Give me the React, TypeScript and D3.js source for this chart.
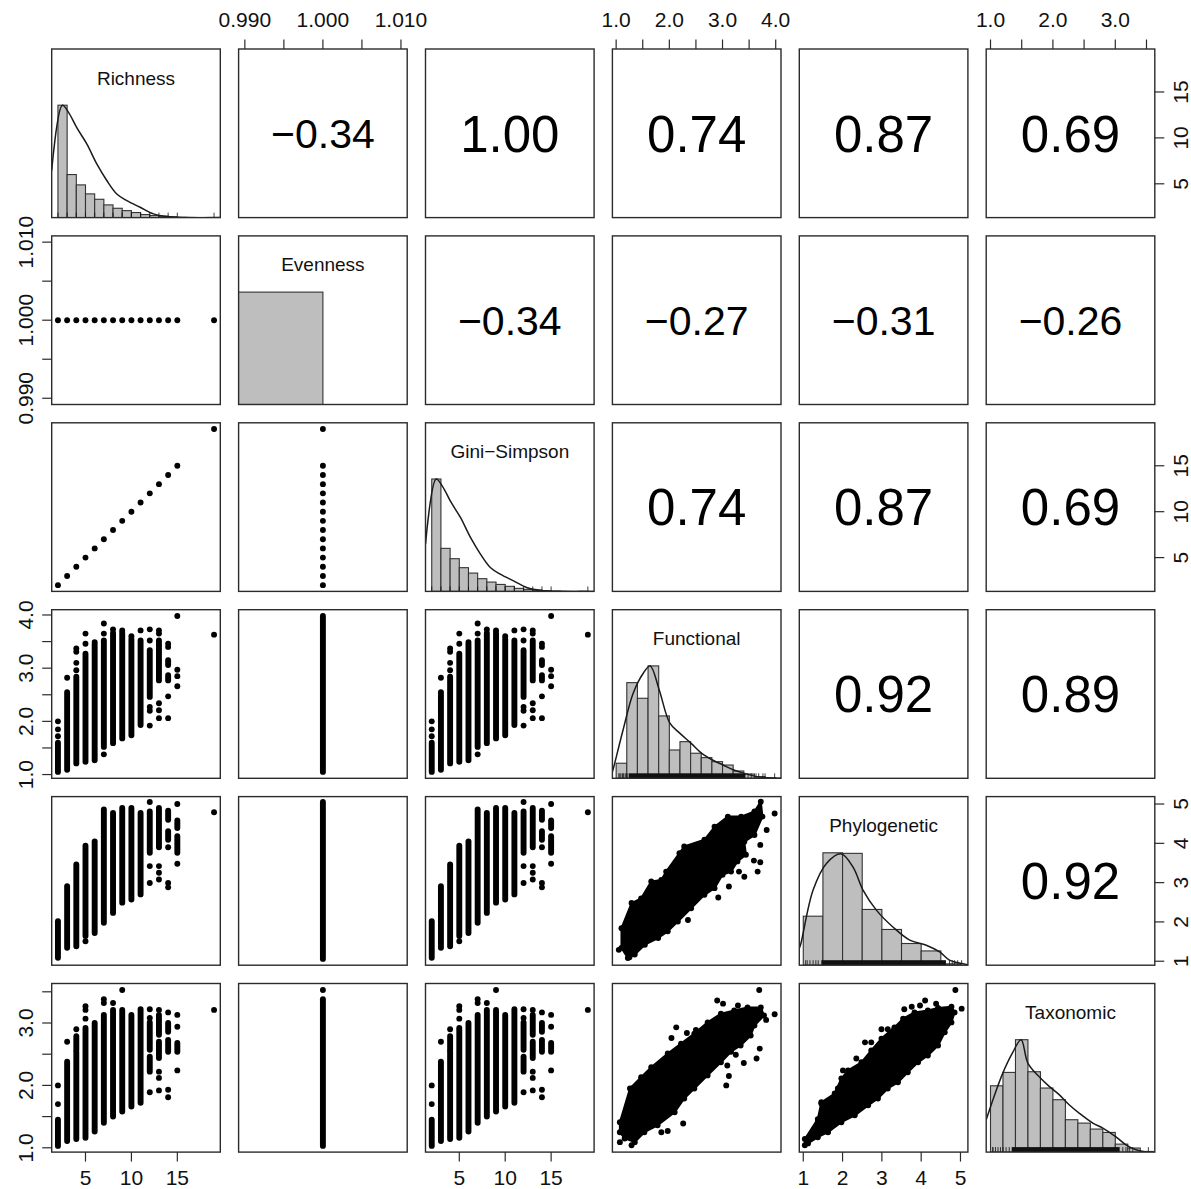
import React from "react";
import * as d3 from "d3";

// ---------------- DATA ----------------
const variableNames = ["Richness", "Evenness", "Gini\u2212Simpson", "Functional", "Phylogenetic", "Taxonomic"];

const richnessRange = [2, 19];
const evennessRange = [0.99, 1.01];
const giniRange = [2, 19];
const functionalRange = [1.047, 3.982];
const phylogeneticRange = [1.058, 5.03];
const taxonomicRange = [1.031, 3.533];

// [row, col, r]
const correlations = [
  [0, 1, -0.34], [0, 2, 1.0], [0, 3, 0.74], [0, 4, 0.87], [0, 5, 0.69],
  [1, 2, -0.34], [1, 3, -0.27], [1, 4, -0.31], [1, 5, -0.26],
  [2, 3, 0.74], [2, 4, 0.87], [2, 5, 0.69],
  [3, 4, 0.92], [3, 5, 0.89],
  [4, 5, 0.92],
];

const richnessTicks = [5, 10, 15];
const richnessTickLabels = ["5", "10", "15"];
const evennessTicks = [0.99, 0.995, 1.0, 1.005, 1.01];
const evennessTickLabels = ["0.990", "", "1.000", "", "1.010"];
const functionalTicks = [1, 1.5, 2, 2.5, 3, 3.5, 4];
const functionalTickLabels = ["1.0", "", "2.0", "", "3.0", "", "4.0"];
const phylogeneticTicks = [1, 2, 3, 4, 5];
const phylogeneticTickLabels = ["1", "2", "3", "4", "5"];
const taxonomicTicks = [1, 1.5, 2, 2.5, 3, 3.5];
const taxonomicTickLabels = ["1.0", "", "2.0", "", "3.0", ""];

// unique richness values
const richnessValues = [2, 3, 4, 5, 6, 7, 8, 9, 10, 11, 12, 13, 14, 15, 19];

// histograms (bar heights relative to tallest bar)
const richnessBreaks = [2, 3, 4, 5, 6, 7, 8, 9, 10, 11, 12, 13, 14, 15, 16, 17, 18, 19];
const richnessHeights = [1.0, 0.383, 0.291, 0.211, 0.163, 0.113, 0.083, 0.062, 0.045, 0.027, 0.018, 0.012, 0.006, 0.002, 0, 0, 0.001];
const evennessBreaks = [0.98, 1.0];
const evennessHeights = [1.0];
const functionalBreaks = [1.0, 1.2, 1.4, 1.6, 1.8, 2.0, 2.2, 2.4, 2.6, 2.8, 3.0, 3.2, 3.4, 3.6, 3.8, 4.0];
const functionalHeights = [0.134, 0.851, 0.712, 1.0, 0.555, 0.252, 0.326, 0.223, 0.184, 0.148, 0.118, 0.065, 0.038, 0.015, 0.005];
const phylogeneticBreaks = [1.0, 1.5, 2.0, 2.5, 3.0, 3.5, 4.0, 4.5, 5.0];
const phylogeneticHeights = [0.436, 1.0, 0.995, 0.496, 0.318, 0.193, 0.127, 0.012];
const taxonomicBreaks = [1.0, 1.2, 1.4, 1.6, 1.8, 2.0, 2.2, 2.4, 2.6, 2.8, 3.0, 3.2, 3.4, 3.6];
const taxonomicHeights = [0.59, 0.709, 1.0, 0.715, 0.57, 0.466, 0.288, 0.258, 0.205, 0.175, 0.071, 0.036, 0.006];

// density curves [x, relative height]
const richnessDensity = [[1.32, 0.42], [2.48, 1.0], [3.2, 0.93], [4.05, 0.8], [5.14, 0.656], [6.23, 0.478], [7.32, 0.33], [8.41, 0.21], [9.5, 0.151], [10.95, 0.092], [12.4, 0.033], [13.9, 0.009], [16, 0.001], [19.68, 0]];
const functionalDensity = [[0.93, 0.06], [0.94, 0.074], [1.13, 0.43], [1.32, 0.757], [1.51, 0.935], [1.64, 1.0], [1.81, 0.786], [2.01, 0.49], [2.2, 0.4], [2.41, 0.311], [2.61, 0.222], [2.81, 0.163], [3.01, 0.118], [3.21, 0.074], [3.41, 0.044], [3.64, 0.015], [3.95, 0.001], [4.1, 0]];
const phylogeneticDensity = [[0.9, 0.15], [0.94, 0.193], [1.25, 0.668], [1.59, 0.905], [1.97, 0.99], [2.27, 0.87], [2.52, 0.668], [2.86, 0.49], [3.28, 0.34], [3.71, 0.223], [4.13, 0.178], [4.47, 0.118], [4.72, 0.045], [5.06, 0.012], [5.19, 0.004]];
const taxonomicDensity = [[0.931, 0.288], [1.06, 0.5], [1.197, 0.703], [1.35, 0.88], [1.49, 1.0], [1.6, 0.79], [1.8, 0.659], [1.94, 0.585], [2.1, 0.511], [2.26, 0.421], [2.42, 0.347], [2.64, 0.258], [2.8, 0.214], [3.0, 0.14], [3.17, 0.065], [3.33, 0.021], [3.49, 0.002], [3.633, 0]];

// rug marks: isolated values and dense stretch
const functionalRugTicks = [1.05, 1.07, 1.09, 1.12, 1.14, 1.17, 1.19, 1.22, 3.48, 3.54, 3.63, 3.68, 3.76, 3.8, 3.98];
const functionalRugDense = [1.24, 3.43];
const phylogeneticRugTicks = [1.06, 1.1, 1.17, 1.25, 1.32, 1.38, 4.72, 4.79, 4.85, 4.93, 5.03];
const phylogeneticRugDense = [1.46, 4.63];
const taxonomicRugTicks = [1.035, 1.04, 1.08, 1.12, 1.16, 1.2, 1.25, 1.3, 3.12, 3.17, 3.23, 3.28, 3.53];
const taxonomicRugDense = [1.34, 3.07];

// richness columns: [richness, low, high] continuous runs, and single points [richness, value]
const functionalRuns = [[2, 1.05, 1.6], [3, 1.09, 2.55], [4, 1.21, 2.84], [5, 1.24, 3.27], [6, 1.27, 3.45], [7, 1.52, 3.52], [8, 1.59, 3.66], [9, 1.68, 3.66], [10, 1.74, 3.55], [11, 1.93, 3.52], [12, 2.46, 3.34], [13, 2.77, 3.52], [14, 2.77, 2.87], [14, 3.06, 3.15]];
const functionalPoints = [[2, 1.72], [2, 1.85], [2, 2.0], [3, 2.82], [4, 3.37], [4, 3.31], [4, 3.1], [4, 2.96], [5, 3.65], [5, 3.46], [6, 3.49], [7, 3.84], [7, 3.65], [7, 1.38], [8, 3.73], [9, 3.71], [10, 3.6], [11, 3.71], [12, 3.73], [12, 3.52], [12, 2.27], [12, 2.2], [12, 1.92], [13, 3.71], [13, 3.65], [13, 2.34], [13, 2.21], [13, 2.06], [14, 3.46], [14, 3.4], [14, 2.47], [14, 2.06], [15, 3.98], [15, 2.97], [15, 2.85], [15, 2.66], [19, 3.63]];
const phylogeneticRuns = [[2, 1.09, 2.02], [3, 1.34, 2.91], [4, 1.38, 3.46], [5, 1.64, 3.94], [6, 1.72, 4.05], [7, 1.98, 4.86], [8, 2.23, 4.77], [9, 2.49, 4.9], [10, 2.57, 4.9], [11, 2.7, 4.77], [12, 3.76, 4.81], [13, 3.9, 4.9], [14, 4.6, 4.83], [14, 4.09, 4.31], [15, 4.39, 4.58], [15, 3.76, 4.18]];
const phylogeneticPoints = [[5, 1.51], [12, 5.05], [12, 3.42], [12, 2.99], [13, 3.42], [13, 3.25], [13, 3.08], [14, 3.9], [14, 2.99], [14, 2.88], [15, 5.0], [15, 3.48], [19, 4.79]];
const taxonomicRuns = [[2, 1.03, 1.45], [3, 1.11, 2.38], [4, 1.14, 2.54], [4, 2.57, 2.79], [5, 1.16, 2.89], [6, 1.26, 3.0], [7, 1.4, 3.13], [8, 1.5, 3.21], [9, 1.58, 3.21], [10, 1.66, 3.13], [11, 1.72, 3.22], [12, 2.57, 3.01], [12, 2.22, 2.46], [13, 2.81, 3.13], [13, 2.44, 2.7], [14, 2.86, 3.0], [14, 2.54, 2.73], [15, 2.54, 2.68]];
const taxonomicPoints = [[2, 1.7], [2, 2.0], [3, 2.7], [4, 2.9], [5, 3.27], [5, 3.21], [5, 3.07], [5, 2.92], [7, 3.38], [7, 3.32], [8, 3.32], [9, 3.53], [12, 3.22], [12, 3.08], [12, 1.89], [13, 3.21], [13, 2.22], [13, 2.12], [13, 1.92], [14, 3.17], [14, 1.93], [14, 1.81], [15, 3.13], [15, 2.94], [15, 2.24], [19, 3.21]];

// evenness (constant 1) columns: [low, high]
const evennessFunctionalRun = [1.05, 3.98];
const evennessPhylogeneticRun = [1.06, 5.05];
const evennessTaxonomicRun = [1.03, 3.38];
const evennessTaxonomicPoints = [3.53];

// dense clouds: outline (upper edge then lower edge) and isolated points
const funcPhyloUpper = [[1.1, 1.84], [1.29, 2.48], [1.47, 2.6], [1.66, 3.03], [1.85, 3.07], [1.94, 3.28], [2.19, 3.75], [2.28, 3.92], [2.66, 4.09], [2.85, 4.42], [3.1, 4.68], [3.35, 4.68], [3.6, 4.81], [3.72, 5.06]];
const funcPhyloLower = [[3.75, 4.68], [3.6, 4.21], [3.41, 4.04], [3.44, 3.71], [3.28, 3.54], [3.16, 3.28], [3.0, 3.2], [2.85, 2.86], [2.66, 2.69], [2.41, 2.35], [2.16, 2.01], [1.97, 1.76], [1.79, 1.59], [1.54, 1.42], [1.35, 1.17], [1.22, 1.08], [1.1, 1.34]];
const funcPhyloOutliers = [[3.98, 4.76], [3.83, 4.34], [3.71, 3.96], [3.71, 3.52], [3.59, 3.56], [3.66, 3.28], [3.41, 3.15], [3.31, 3.28], [3.12, 2.9], [2.92, 2.62], [2.35, 2.05], [1.05, 1.29], [1.25, 1.1]];

const funcTaxoUpper = [[1.07, 1.41], [1.26, 1.95], [1.47, 2.13], [1.66, 2.29], [1.97, 2.51], [2.22, 2.67], [2.47, 2.83], [2.72, 3.01], [2.97, 3.15], [3.22, 3.2], [3.47, 3.25], [3.72, 3.25]];
const funcTaxoLower = [[3.78, 3.12], [3.6, 2.96], [3.53, 2.8], [3.34, 2.64], [3.16, 2.54], [2.97, 2.37], [2.72, 2.16], [2.47, 1.95], [2.28, 1.79], [2.1, 1.57], [1.78, 1.36], [1.53, 1.25], [1.35, 1.09], [1.16, 1.15], [1.07, 1.25]];
const funcTaxoOutliers = [[3.69, 3.53], [3.98, 3.14], [3.82, 3.05], [3.7, 2.59], [3.64, 2.43], [3.4, 2.36], [3.25, 2.49], [3.09, 2.32], [3.12, 2.15], [3.07, 2.0], [2.9, 3.36], [3.01, 3.31], [3.29, 3.28], [2.13, 2.93], [2.33, 2.84], [2.5, 2.89], [2.04, 2.76], [2.26, 1.39], [1.85, 1.25], [1.97, 1.27], [1.3, 1.95], [1.07, 1.09], [1.29, 1.04], [1.11, 1.42]];

const phyloTaxoUpper = [[1.04, 1.14], [1.37, 1.46], [1.46, 1.73], [1.8, 1.87], [1.97, 2.11], [2.14, 2.24], [2.48, 2.37], [2.73, 2.56], [2.99, 2.75], [3.32, 2.93], [3.54, 3.07], [3.83, 3.17], [4.17, 3.2], [4.43, 3.24], [4.77, 3.26]];
const phyloTaxoLower = [[4.85, 3.17], [4.77, 3.01], [4.6, 2.85], [4.43, 2.64], [4.17, 2.48], [3.92, 2.37], [3.66, 2.21], [3.41, 2.05], [3.15, 1.95], [2.9, 1.79], [2.65, 1.68], [2.31, 1.52], [1.97, 1.41], [1.63, 1.25], [1.37, 1.17], [1.12, 1.07], [1.04, 1.04]];
const phyloTaxoOutliers = [[4.87, 3.53], [5.03, 3.23], [4.1, 3.36], [4.38, 3.31], [3.57, 3.22], [3.76, 3.26], [3.97, 3.28], [2.99, 2.9], [3.15, 2.9], [3.32, 2.9], [2.57, 2.69], [2.73, 2.69], [3.01, 2.69], [2.35, 2.43], [2.01, 2.24], [2.1, 2.08], [1.88, 1.95], [1.46, 1.71], [1.55, 1.71], [1.37, 1.41]];

// ---------------- LAYOUT / STYLE ----------------
const W = 1191;
const H = 1189;
const PX0 = 51.7;
const PY0 = 49;
const STEP = 186.9;
const SIZE = 168.6;
const DOT_R = 2.95;
const FONT = "'Liberation Sans', Arial, Helvetica, sans-serif";
const FRAME = "#2b2b2b";
const TICK_LEN = 9.5;
const AXIS_FONT = 21;

const ranges = [richnessRange, evennessRange, giniRange, functionalRange, phylogeneticRange, taxonomicRange];
const extend = (r: number[]) => {
  const d = r[1] - r[0];
  return [r[0] - 0.04 * d, r[1] + 0.04 * d];
};
const colX = (j: number) => PX0 + j * STEP;
const rowY = (i: number) => PY0 + i * STEP;
const xScale = (j: number) => d3.scaleLinear().domain(extend(ranges[j])).range([colX(j), colX(j) + SIZE]);
const yScale = (i: number) => d3.scaleLinear().domain(extend(ranges[i])).range([rowY(i) + SIZE, rowY(i)]);

const tickSets = [
  { ticks: richnessTicks, labels: richnessTickLabels },
  { ticks: evennessTicks, labels: evennessTickLabels },
  { ticks: richnessTicks, labels: richnessTickLabels },
  { ticks: functionalTicks, labels: functionalTickLabels },
  { ticks: phylogeneticTicks, labels: phylogeneticTickLabels },
  { ticks: taxonomicTicks, labels: taxonomicTickLabels },
];

const diagData = [
  { breaks: richnessBreaks, heights: richnessHeights, density: richnessDensity, rug: richnessValues, dense: null },
  { breaks: evennessBreaks, heights: evennessHeights, density: null, rug: [], dense: null },
  { breaks: richnessBreaks, heights: richnessHeights, density: richnessDensity, rug: richnessValues, dense: null },
  { breaks: functionalBreaks, heights: functionalHeights, density: functionalDensity, rug: functionalRugTicks, dense: functionalRugDense },
  { breaks: phylogeneticBreaks, heights: phylogeneticHeights, density: phylogeneticDensity, rug: phylogeneticRugTicks, dense: phylogeneticRugDense },
  { breaks: taxonomicBreaks, heights: taxonomicHeights, density: taxonomicDensity, rug: taxonomicRugTicks, dense: taxonomicRugDense },
];

const fmtCor = (r: number) => r.toFixed(2).replace("-", "\u2212");

function Runs({ runs, sx, sy }: any) {
  return (
    <g>
      {runs.map((r: number[], k: number) => (
        <line key={k} x1={sx(r[0])} x2={sx(r[0])} y1={sy(r[1])} y2={sy(r[2])}
          stroke="#000" strokeWidth={DOT_R * 2} strokeLinecap="round" />
      ))}
    </g>
  );
}

function Dots({ pts, sx, sy }: any) {
  return (
    <g>
      {pts.map((p: number[], k: number) => (
        <circle key={k} cx={sx(p[0])} cy={sy(p[1])} r={DOT_R} fill="#000" />
      ))}
    </g>
  );
}

function Cloud({ upper, lower, outliers, sx, sy }: any) {
  const outline = upper.concat(lower);
  const path = d3.line().x((d: any) => sx(d[0])).y((d: any) => sy(d[1])).curve(d3.curveLinearClosed)(outline as any);
  return (
    <g>
      <path d={path || ""} fill="#000" stroke="#000" strokeWidth={2} strokeLinejoin="round" />
      <Dots pts={outline} sx={sx} sy={sy} />
      <Dots pts={outliers} sx={sx} sy={sy} />
    </g>
  );
}

function Scatter({ i, j }: any) {
  const sx = xScale(j);
  const sy = yScale(i);
  const items: any[] = [];
  if (i === 1 && j === 0) items.push(<Dots key="a" pts={richnessValues.map((k) => [k, 1])} sx={sx} sy={sy} />);
  if (i === 2 && j === 0) items.push(<Dots key="a" pts={richnessValues.map((k) => [k, k])} sx={sx} sy={sy} />);
  if (i === 2 && j === 1) items.push(<Dots key="a" pts={richnessValues.map((k) => [1, k])} sx={sx} sy={sy} />);
  if (j === 0 || j === 2) {
    if (i === 3) { items.push(<Runs key="r" runs={functionalRuns} sx={sx} sy={sy} />); items.push(<Dots key="p" pts={functionalPoints} sx={sx} sy={sy} />); }
    if (i === 4) { items.push(<Runs key="r" runs={phylogeneticRuns} sx={sx} sy={sy} />); items.push(<Dots key="p" pts={phylogeneticPoints} sx={sx} sy={sy} />); }
    if (i === 5) { items.push(<Runs key="r" runs={taxonomicRuns} sx={sx} sy={sy} />); items.push(<Dots key="p" pts={taxonomicPoints} sx={sx} sy={sy} />); }
  }
  if (j === 1) {
    if (i === 3) items.push(<Runs key="r" runs={[[1, evennessFunctionalRun[0], evennessFunctionalRun[1]]]} sx={sx} sy={sy} />);
    if (i === 4) items.push(<Runs key="r" runs={[[1, evennessPhylogeneticRun[0], evennessPhylogeneticRun[1]]]} sx={sx} sy={sy} />);
    if (i === 5) {
      items.push(<Runs key="r" runs={[[1, evennessTaxonomicRun[0], evennessTaxonomicRun[1]]]} sx={sx} sy={sy} />);
      items.push(<Dots key="p" pts={evennessTaxonomicPoints.map((v) => [1, v])} sx={sx} sy={sy} />);
    }
  }
  if (i === 4 && j === 3) items.push(<Cloud key="c" upper={funcPhyloUpper} lower={funcPhyloLower} outliers={funcPhyloOutliers} sx={sx} sy={sy} />);
  if (i === 5 && j === 3) items.push(<Cloud key="c" upper={funcTaxoUpper} lower={funcTaxoLower} outliers={funcTaxoOutliers} sx={sx} sy={sy} />);
  if (i === 5 && j === 4) items.push(<Cloud key="c" upper={phyloTaxoUpper} lower={phyloTaxoLower} outliers={phyloTaxoOutliers} sx={sx} sy={sy} />);
  return <g clipPath={`url(#clip-${i}-${j})`}>{items}</g>;
}

function Diagonal({ i }: any) {
  const d = diagData[i];
  const sx = xScale(i);
  const y0 = rowY(i);
  const sy = d3.scaleLinear().domain([0, 1.5]).range([y0 + SIZE, y0]);
  const line = d3.line().x((p: any) => sx(p[0])).y((p: any) => sy(p[1])).curve(d3.curveCatmullRom.alpha(0.5));
  const bottom = y0 + SIZE;
  return (
    <g>
      <g clipPath={`url(#clip-${i}-${i})`}>
        {d.heights.map((h: number, k: number) => (
          <rect key={k} x={sx(d.breaks[k])} y={sy(h)} width={sx(d.breaks[k + 1]) - sx(d.breaks[k])}
            height={bottom - sy(h)} fill="#bebebe" stroke="#333" strokeWidth={1.1} />
        ))}
        {d.dense && (
          <rect x={sx(d.dense[0])} y={bottom - 5} width={sx(d.dense[1]) - sx(d.dense[0])} height={5} fill="#111" />
        )}
        {d.rug.map((v: number, k: number) => (
          <line key={"r" + k} x1={sx(v)} x2={sx(v)} y1={bottom} y2={bottom - 5} stroke="#111" strokeWidth={0.8} />
        ))}
        {d.density && <path d={line(d.density as any) || ""} fill="none" stroke="#1a1a1a" strokeWidth={1.5} />}
      </g>
      <text x={colX(i) + SIZE / 2} y={y0 + 35.5} textAnchor="middle" fontSize={19} fontFamily={FONT} fill="#111">
        {variableNames[i]}
      </text>
    </g>
  );
}

function Axes() {
  const out: any[] = [];
  [1, 3, 5].forEach((j) => {
    const sx = xScale(j);
    const t = tickSets[j];
    t.ticks.forEach((v, k) => {
      const x = sx(v);
      out.push(<line key={`t${j}-${k}`} x1={x} x2={x} y1={PY0} y2={PY0 - TICK_LEN} stroke={FRAME} strokeWidth={1.2} />);
      if (t.labels[k]) out.push(<text key={`tl${j}-${k}`} x={x} y={PY0 - 22} textAnchor="middle" fontSize={AXIS_FONT} fontFamily={FONT} fill="#111">{t.labels[k]}</text>);
    });
  });
  const yb = rowY(5) + SIZE;
  [0, 2, 4].forEach((j) => {
    const sx = xScale(j);
    const t = tickSets[j];
    t.ticks.forEach((v, k) => {
      const x = sx(v);
      out.push(<line key={`b${j}-${k}`} x1={x} x2={x} y1={yb} y2={yb + TICK_LEN} stroke={FRAME} strokeWidth={1.2} />);
      if (t.labels[k]) out.push(<text key={`bl${j}-${k}`} x={x} y={yb + 33} textAnchor="middle" fontSize={AXIS_FONT} fontFamily={FONT} fill="#111">{t.labels[k]}</text>);
    });
  });
  [1, 3, 5].forEach((i) => {
    const sy = yScale(i);
    const t = tickSets[i];
    t.ticks.forEach((v, k) => {
      const y = sy(v);
      out.push(<line key={`l${i}-${k}`} x1={PX0} x2={PX0 - TICK_LEN} y1={y} y2={y} stroke={FRAME} strokeWidth={1.2} />);
      const lx = PX0 - 18.7;
      if (t.labels[k]) out.push(<text key={`ll${i}-${k}`} x={lx} y={y} transform={`rotate(-90, ${lx}, ${y})`} textAnchor="middle" fontSize={AXIS_FONT} fontFamily={FONT} fill="#111">{t.labels[k]}</text>);
    });
  });
  const xr = colX(5) + SIZE;
  [0, 2, 4].forEach((i) => {
    const sy = yScale(i);
    const t = tickSets[i];
    t.ticks.forEach((v, k) => {
      const y = sy(v);
      out.push(<line key={`r${i}-${k}`} x1={xr} x2={xr + TICK_LEN} y1={y} y2={y} stroke={FRAME} strokeWidth={1.2} />);
      const lx = xr + 33;
      if (t.labels[k]) out.push(<text key={`rl${i}-${k}`} x={lx} y={y} transform={`rotate(-90, ${lx}, ${y})`} textAnchor="middle" fontSize={AXIS_FONT} fontFamily={FONT} fill="#111">{t.labels[k]}</text>);
    });
  });
  return <g>{out}</g>;
}

export default function App() {
  const cells: any[] = [];
  for (let i = 0; i < 6; i++) {
    for (let j = 0; j < 6; j++) {
      if (i === j) cells.push(<Diagonal key={`d${i}`} i={i} />);
      else if (i > j) cells.push(<Scatter key={`s${i}-${j}`} i={i} j={j} />);
    }
  }
  const corTexts = correlations.map(([i, j, r]) => {
    const txt = fmtCor(r);
    const fs = r < 0 ? 41 : 51;
    const cx = colX(j) + SIZE / 2;
    const cy = rowY(i) + SIZE / 2 + 0.358 * fs;
    return (
      <text key={`c${i}-${j}`} x={cx} y={cy} textAnchor="middle" fontSize={fs} fontFamily={FONT} fill="#000">{txt}</text>
    );
  });
  const frames: any[] = [];
  const clips: any[] = [];
  for (let i = 0; i < 6; i++) {
    for (let j = 0; j < 6; j++) {
      clips.push(
        <clipPath key={`cp${i}-${j}`} id={`clip-${i}-${j}`}>
          <rect x={colX(j)} y={rowY(i)} width={SIZE} height={SIZE} />
        </clipPath>
      );
      frames.push(<rect key={`f${i}-${j}`} x={colX(j)} y={rowY(i)} width={SIZE} height={SIZE} fill="none" stroke={FRAME} strokeWidth={1.4} />);
    }
  }
  return (
    <svg width={W} height={H} style={{ position: "absolute", left: 0, top: 0, background: "#fff" }} xmlns="http://www.w3.org/2000/svg">
      <defs>{clips}</defs>
      <rect x={0} y={0} width={W} height={H} fill="#fff" />
      {cells}
      {corTexts}
      {frames}
      <Axes />
    </svg>
  );
}
